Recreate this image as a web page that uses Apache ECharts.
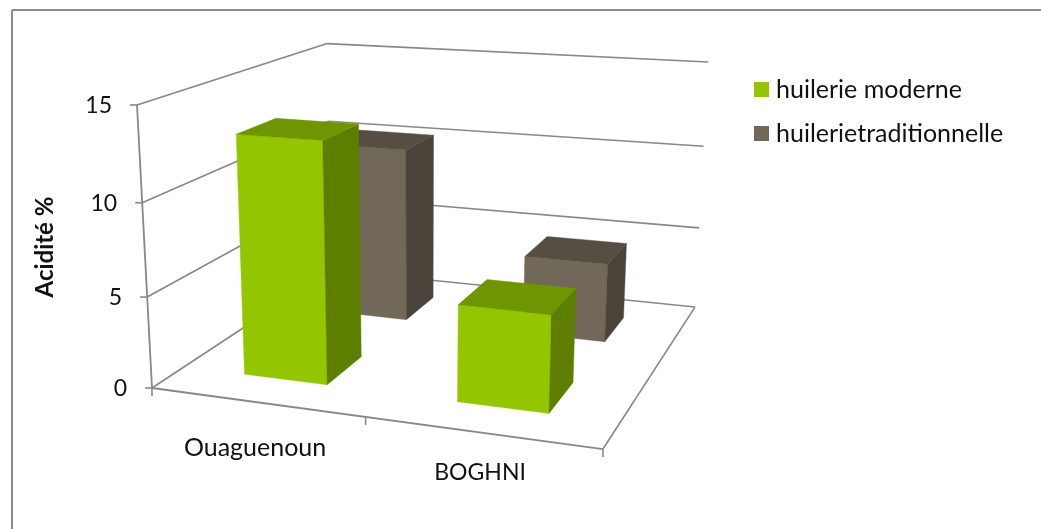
<!DOCTYPE html>
<html>
<head>
<meta charset="utf-8">
<style>html,body{margin:0;padding:0;background:#fff}#chart{width:1041px;height:529px}</style>
<script src="https://cdn.jsdelivr.net/npm/echarts@6/dist/echarts.min.js"></script>
</head>
<body>
<div id="chart"></div>
<script>
// Acidity by site and oil mill type, drawn as a 3D column chart
const categories = ['Ouaguenoun', 'BOGHNI'];
const seriesNames = ['huilerie moderne', 'huilerietraditionnelle'];
const moderne = [13.1, 5.2];
const traditionnelle = [10.3, 4.6];
const valueTicks = [0, 5, 10, 15];
const axisTitle = 'Acidité %';

const FONT = 'Lato, "Open Sans", sans-serif';
const LINE = '#888888';
const TEXT = '#111111';

// Perspective matrix of the plot box: u along categories, v in depth, z up, each 0..1
const P = {
  x: [390.6, 266.5, -22.26, 152],
  y: [16.1, -46.6, -288.6, 388],
  w: [-0.1001, 0.2643, -0.053, 1]
};
function project(u, v, z) {
  const d = P.w[0] * u + P.w[1] * v + P.w[2] * z + P.w[3];
  return [
    (P.x[0] * u + P.x[1] * v + P.x[2] * z + P.x[3]) / d,
    (P.y[0] * u + P.y[1] * v + P.y[2] * z + P.y[3]) / d
  ];
}

// The hidden grid fills the canvas, so its scales give unit positions directly
function unitU(api, cat) { return api.coord([cat, 0])[0] / api.getWidth(); }
function unitZ(api, val) { return 1 - api.coord([0, val])[1] / api.getHeight(); }

function face(points, fill) {
  return { type: 'polygon', shape: { points: points }, style: { fill: fill, stroke: fill, lineWidth: 0.4 } };
}
function seg(a, b, w) {
  return { type: 'line', shape: { x1: a[0], y1: a[1], x2: b[0], y2: b[1] }, style: { stroke: LINE, lineWidth: w || 1.6 } };
}
function label(text, p, align, opts) {
  return {
    type: 'text',
    x: p[0], y: p[1],
    rotation: (opts && opts.rotation) || 0,
    style: Object.assign({
      text: text, fill: TEXT, font: '23px ' + FONT, align: align, verticalAlign: 'middle'
    }, opts && opts.style)
  };
}

// One column: three visible faces, sized from the category band and the series depth slot
function columnSeries(name, values, depthIndex, colors, z) {
  return {
    type: 'custom',
    name: name,
    coordinateSystem: 'cartesian2d',
    z: z,
    silent: true,
    itemStyle: { color: colors.front },
    encode: { x: 0, y: 1 },
    data: values.map((v, i) => [i, v]),
    renderItem: function (params, api) {
      const cat = api.value(0);
      const uc = unitU(api, cat);
      const band = api.size([1, 0])[0] / api.getWidth();
      const half = band * 0.2;
      const u0 = uc - half, u1 = uc + half;
      const vc = (depthIndex + 0.5) / seriesNames.length;
      const depthHalf = 0.2 / seriesNames.length;
      const v0 = vc - depthHalf, v1 = vc + depthHalf;
      const t = unitZ(api, api.value(1));
      return {
        type: 'group',
        children: [
          face([project(u0, v0, 0), project(u1, v0, 0), project(u1, v0, t), project(u0, v0, t)], colors.front),
          face([project(u1, v0, 0), project(u1, v1, 0), project(u1, v1, t), project(u1, v0, t)], colors.side),
          face([project(u0, v0, t), project(u1, v0, t), project(u1, v1, t), project(u0, v1, t)], colors.top)
        ]
      };
    }
  };
}

// Floor outline, wall gridlines, ticks and axis texts
const frameSeries = {
  type: 'custom',
  name: 'axes',
  coordinateSystem: 'cartesian2d',
  z: 1,
  silent: true,
  encode: { x: 0, y: 1 },
  data: [[0, 0]],
  renderItem: function (params, api) {
    const kids = [];
    const u = c => unitU(api, c);
    const bandU = api.size([1, 0])[0] / api.getWidth();
    const edges = [0, bandU, 2 * bandU];
    // floor
    kids.push(seg(project(0, 0, 0), project(1, 0, 0), 1.8));
    kids.push(seg(project(1, 0, 0), project(1, 1, 0)));
    kids.push(seg(project(1, 1, 0), project(0, 1, 0)));
    kids.push(seg(project(0, 1, 0), project(0, 0, 0)));
    // value axis edge
    kids.push(seg(project(0, 0, 0), project(0, 0, 1), 1.8));
    // gridlines and value ticks
    valueTicks.forEach(val => {
      const t = unitZ(api, val);
      const p = project(0, 0, t);
      kids.push(seg([p[0] - 7, p[1]], p));
      if (val > 0) {
        kids.push(seg(p, project(0, 1, t)));
        kids.push(seg(project(0, 1, t), project(1, 1, t)));
      }
      kids.push(label(String(val), [p[0] - 25, p[1] + 1], 'right'));
    });
    // category ticks and labels
    edges.forEach(e => {
      const p = project(e, 0, 0);
      kids.push(seg(p, [p[0], p[1] + 8]));
    });
    categories.forEach((name, i) => {
      const p = project(u(i), 0, 0);
      kids.push(label(name, [p[0] - 1, p[1] + (i === 0 ? 46 : 40)], 'center',
        { style: { font: (i === 0 ? 25 : 23) + 'px ' + FONT } }));
    });
    kids.push(label(axisTitle, [45, 247], 'center', {
      rotation: Math.PI / 2,
      style: { font: 'bold 24px ' + FONT }
    }));
    return { type: 'group', children: kids };
  }
};

const chart = echarts.init(document.getElementById('chart'), null, { renderer: 'canvas' });
chart.setOption({
  animation: false,
  backgroundColor: '#ffffff',
  grid: { left: 0, right: 0, top: 0, bottom: 0 },
  xAxis: { type: 'category', data: categories, show: false },
  yAxis: { type: 'value', min: 0, max: 15, interval: 5, show: false },
  legend: {
    left: 754, top: 77, orient: 'vertical', padding: 0,
    itemWidth: 15, itemHeight: 15, itemGap: 19,
    selectedMode: false, icon: 'rect',
    data: seriesNames,
    textStyle: { fontFamily: FONT, fontSize: 25, color: TEXT, padding: [0, 0, 0, 2] }
  },
  graphic: [
    { type: 'line', shape: { x1: 12, y1: 10, x2: 1041, y2: 10 }, style: { stroke: '#8c8c8c', lineWidth: 2 } },
    { type: 'line', shape: { x1: 12, y1: 10, x2: 12, y2: 529 }, style: { stroke: '#8c8c8c', lineWidth: 2 } }
  ],
  series: [
    frameSeries,
    columnSeries(seriesNames[0], moderne, 0, { front: '#94c600', side: '#5e7e00', top: '#6f9500' }, 4),
    columnSeries(seriesNames[1], traditionnelle, 1, { front: '#71685a', side: '#4b433a', top: '#574e43' }, 3)
  ]
});
</script>
</body>
</html>
